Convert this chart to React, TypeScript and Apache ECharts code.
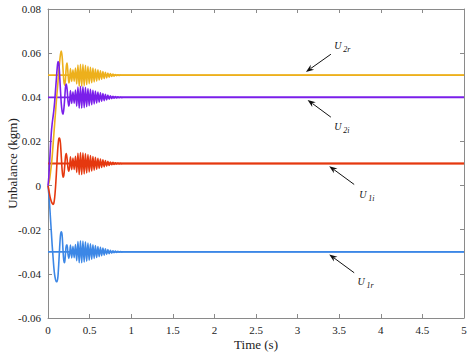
import React, { useEffect, useRef } from "react";
import * as echarts from "echarts";

// shared time samples (s)
const time = [
  0, 0.01, 0.02, 0.03, 0.04, 0.05, 0.06, 0.07, 0.08, 0.09, 0.1, 0.11, 0.12, 0.13,
  0.14, 0.15, 0.16, 0.17, 0.18, 0.19, 0.2, 0.21, 0.22, 0.23, 0.24, 0.25, 0.26,
  0.27, 0.285, 0.3, 0.315, 0.33, 0.345, 0.36, 0.375, 0.39, 0.405, 0.42, 0.435, 0.45,
  0.465, 0.48, 0.495, 0.51, 0.525, 0.54, 0.555, 0.57, 0.585, 0.6, 0.615, 0.63, 0.645,
  0.66, 0.675, 0.69, 0.705, 0.72, 0.735, 0.75, 0.765, 0.78, 0.795, 0.81, 0.825, 0.84,
  0.855, 0.87, 0.885, 0.9, 1.0, 5.0,
];

const u2r = [
  0, 0.001, 0.003, 0.006, 0.009, 0.013, 0.018, 0.023, 0.028, 0.033, 0.038, 0.0425,
  0.047, 0.052, 0.056, 0.0595, 0.061, 0.0585, 0.053, 0.0475, 0.0455, 0.048, 0.054,
  0.0555, 0.051, 0.0465, 0.048,
  0.053, 0.0472, 0.0525, 0.0473, 0.0533, 0.046, 0.0546, 0.045, 0.055, 0.045,
  0.0549, 0.0453, 0.0545, 0.0457, 0.054, 0.0462, 0.0536, 0.0466, 0.0532, 0.047,
  0.0528, 0.0474, 0.0524, 0.0478, 0.052, 0.0482, 0.0517, 0.0485, 0.0513, 0.0488,
  0.051, 0.0491, 0.0507, 0.0494, 0.0505, 0.0496, 0.0503, 0.04975, 0.0502, 0.04985,
  0.0501, 0.04995, 0.05,
  0.05, 0.05,
];

const u2i = [
  0, 0.004, 0.011, 0.018, 0.024, 0.028, 0.031, 0.034, 0.038, 0.043, 0.048, 0.053,
  0.0562, 0.0555, 0.05, 0.043, 0.037, 0.0335, 0.0323, 0.0345, 0.039, 0.0445, 0.046,
  0.0435, 0.0385, 0.036, 0.038,
  0.043, 0.0372, 0.0425, 0.0373, 0.0433, 0.036, 0.0446, 0.035, 0.045, 0.035,
  0.0449, 0.0353, 0.0445, 0.0357, 0.044, 0.0362, 0.0436, 0.0366, 0.0432, 0.037,
  0.0428, 0.0374, 0.0424, 0.0378, 0.042, 0.0382, 0.0417, 0.0385, 0.0413, 0.0388,
  0.041, 0.0391, 0.0407, 0.0394, 0.0405, 0.0396, 0.0403, 0.03975, 0.0402, 0.03985,
  0.0401, 0.03995, 0.04,
  0.04, 0.04,
];

const u1i = [
  0, -0.002, -0.0042, -0.006, -0.0072, -0.008, -0.0085, -0.008, -0.0055, -0.001,
  0.005, 0.012, 0.018, 0.0212, 0.0215, 0.019, 0.013, 0.007, 0.0038, 0.0045, 0.0085,
  0.013, 0.0145, 0.012, 0.008, 0.0065, 0.0085,
  0.013, 0.0072, 0.0125, 0.0073, 0.0133, 0.006, 0.0146, 0.005, 0.015, 0.005,
  0.0149, 0.0053, 0.0145, 0.0057, 0.014, 0.0062, 0.0136, 0.0066, 0.0132, 0.007,
  0.0128, 0.0074, 0.0124, 0.0078, 0.012, 0.0082, 0.0117, 0.0085, 0.0113, 0.0088,
  0.011, 0.0091, 0.0107, 0.0094, 0.0105, 0.0096, 0.0103, 0.00975, 0.0102, 0.00985,
  0.0101, 0.00995, 0.01,
  0.01, 0.01,
];

const u1r = [
  0, -0.004, -0.009, -0.015, -0.021, -0.027, -0.032, -0.037, -0.0405, -0.0425,
  -0.0435, -0.0435, -0.041, -0.035, -0.028, -0.0225, -0.021, -0.0225, -0.029, -0.034,
  -0.035, -0.031, -0.027, -0.027, -0.031, -0.033, -0.031,
  -0.027, -0.0328, -0.0275, -0.0327, -0.0267, -0.034, -0.0254, -0.035, -0.025, -0.035,
  -0.0251, -0.0347, -0.0255, -0.0343, -0.026, -0.0338, -0.0264, -0.0334, -0.0268, -0.033,
  -0.0272, -0.0326, -0.0276, -0.0322, -0.028, -0.0318, -0.0283, -0.0315, -0.0287, -0.0312,
  -0.029, -0.0309, -0.0293, -0.0306, -0.0295, -0.0304, -0.0297, -0.03025, -0.0298, -0.03015,
  -0.0299, -0.03005, -0.03,
  -0.03, -0.03,
];

// true (target) unbalance values
const targetNames = ["U2r", "U2i", "U1i", "U1r"];
const targetValues = [0.05, 0.04, 0.01, -0.03];

// annotation anchors in data units
const annSub = ["2r", "2i", "1i", "1r"];
const annHead = [[3.1, 0.0515], [3.12, 0.0388], [3.38, 0.0088], [3.38, -0.0312]];
const annTail = [[3.4, 0.0595], [3.4, 0.031], [3.68, 0.0005], [3.68, -0.0395]];
const annText = [[3.44, 0.0636], [3.44, 0.0268], [3.74, -0.0041], [3.72, -0.0436]];

const colors = {
  U2r: "#EDB01C",
  U2i: "#7A1FEA",
  U1i: "#E5380F",
  U1r: "#3C87E6",
};

export default function App() {
  const ref = useRef<HTMLDivElement>(null);
  useEffect(() => {
    const chart = echarts.init(ref.current!, null, { renderer: "svg" });
    const serif = "Liberation Serif";
    const axisColor = "#8a8a8a";
    const mk = (name: string, vals: number[], color: string, z: number) => ({
      type: "line",
      name,
      data: time.map((t, i) => [t, vals[i]]),
      showSymbol: false,
      symbol: "none",
      smooth: 0.25,
      lineStyle: { color, width: 1.6 },
      itemStyle: { color },
      z,
    });
    const targets = targetNames.map((n, i) => ({
      type: "line",
      name: n + "_true",
      data: [
        [0, targetValues[i]],
        [5, targetValues[i]],
      ],
      showSymbol: false,
      symbol: "none",
      lineStyle: { color: (colors as any)[n], width: 1.8 },
      z: 1,
    }));
    const xBase = {
      type: "value",
      min: 0,
      max: 5,
      interval: 0.5,
      splitLine: { show: false },
      axisLine: { show: true, onZero: false, lineStyle: { color: axisColor, width: 1 } },
      axisTick: { show: true, inside: true, length: 4, lineStyle: { color: axisColor } },
    };
    const yBase = {
      type: "value",
      min: -0.06,
      max: 0.08,
      interval: 0.02,
      splitLine: { show: false },
      axisLine: { show: true, onZero: false, lineStyle: { color: axisColor, width: 1 } },
      axisTick: { show: true, inside: true, length: 4, lineStyle: { color: axisColor } },
    };
    chart.setOption({
      animation: false,
      grid: {
        left: 48,
        right: 10,
        top: 9,
        bottom: 37,
        containLabel: false,
        outerBoundsMode: "none",
      },
      xAxis: [
        {
          ...xBase,
          position: "bottom",
          name: "Time (s)",
          nameLocation: "middle",
          nameGap: 20,
          nameMoveOverlap: false,
          nameTextStyle: { fontFamily: serif, fontSize: 13, color: "#222" },
          axisLabel: { color: "#222", fontFamily: serif, fontSize: 11, margin: 6 },
        },
        { ...xBase, position: "top", axisLabel: { show: false } },
      ],
      yAxis: [
        {
          ...yBase,
          position: "left",
          name: "Unbalance (kgm)",
          nameLocation: "middle",
          nameGap: 29,
          nameMoveOverlap: false,
          nameTextStyle: { fontFamily: serif, fontSize: 13, color: "#222" },
          axisLabel: {
            color: "#222",
            fontFamily: serif,
            fontSize: 11,
            margin: 7,
            formatter: (v: number) => (Math.abs(v) < 1e-9 ? "0" : v.toFixed(2)),
          },
        },
        { ...yBase, position: "right", axisLabel: { show: false } },
      ],
      series: [
        ...targets,
        mk("U2r", u2r, colors.U2r, 2),
        mk("U1r", u1r, colors.U1r, 3),
        mk("U1i", u1i, colors.U1i, 4),
        mk("U2i", u2i, colors.U2i, 5),
      ],
    });

    const toPx = (p: number[]) =>
      chart.convertToPixel({ xAxisIndex: 0, yAxisIndex: 0 }, p) as number[];
    const graphics: any[] = [];
    annSub.forEach((sub, i) => {
      const h = toPx(annHead[i]);
      const t = toPx(annTail[i]);
      const tx = toPx(annText[i]);
      const dx = h[0] - t[0];
      const dy = h[1] - t[1];
      const len = Math.hypot(dx, dy);
      const ux = dx / len;
      const uy = dy / len;
      const hl = 8;
      const hw = 3;
      const bx = h[0] - ux * hl;
      const by = h[1] - uy * hl;
      graphics.push({
        type: "line",
        shape: { x1: t[0], y1: t[1], x2: bx + ux * 2, y2: by + uy * 2 },
        style: { stroke: "#111", lineWidth: 1 },
        z: 100,
      });
      graphics.push({
        type: "polygon",
        shape: {
          points: [
            [h[0], h[1]],
            [bx - uy * hw, by + ux * hw],
            [bx + ux * 2.5, by + uy * 2.5],
            [bx + uy * hw, by - ux * hw],
          ],
        },
        style: { fill: "#111" },
        z: 100,
      });
      graphics.push({
        type: "text",
        x: tx[0],
        y: tx[1],
        style: {
          text: "U",
          font: `italic 10px ${serif}`,
          fill: "#111",
          textAlign: "left",
          textVerticalAlign: "middle",
        },
        z: 100,
      });
      graphics.push({
        type: "text",
        x: tx[0] + 9,
        y: tx[1] + 4,
        style: {
          text: sub,
          font: `italic 8px ${serif}`,
          fill: "#111",
          textAlign: "left",
          textVerticalAlign: "middle",
        },
        z: 100,
      });
    });
    chart.setOption({ graphic: graphics });

    return () => chart.dispose();
  }, []);
  return (
    <div
      ref={ref}
      style={{ position: "fixed", left: 0, top: 0, width: 474, height: 355, background: "#fff" }}
    />
  );
}
